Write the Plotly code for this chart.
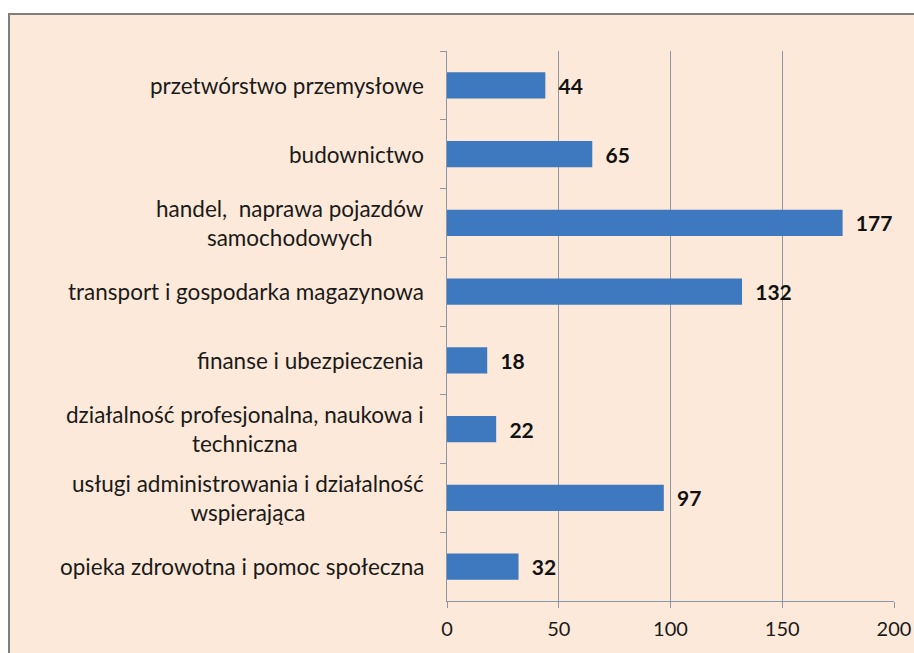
import plotly.graph_objects as go

categories = [
    "przetwórstwo przemysłowe",
    "budownictwo",
    "handel,  naprawa pojazdów<br>samochodowych",
    "transport i gospodarka magazynowa",
    "finanse i ubezpieczenia",
    "działalność profesjonalna, naukowa i<br>techniczna",
    "usługi administrowania i działalność<br>wspierająca",
    "opieka zdrowotna i pomoc społeczna",
]
values = [44, 65, 177, 132, 18, 22, 97, 32]
x_ticks = [0, 50, 100, 150, 200]

FONT = "Lato"
W, H = 914, 653
L, R, T, B = 447, 20, 51, 52
pw, ph = W - L - R, H - T - B

def px_x(p):
    return (p - L) / pw

def px_y(p):
    return (H - B - p) / ph

fig = go.Figure()
fig.add_trace(go.Bar(
    y=categories,
    x=values,
    orientation="h",
    marker=dict(color="#3E78BE", line=dict(width=0)),
    texttemplate="\u00a0\u00a0%{x}",
    textposition="outside",
    textfont=dict(family=FONT, size=21, color="#111111", weight="bold"),
    constraintext="none",
    cliponaxis=False,
    hoverinfo="skip",
))

for c in categories:
    fig.add_annotation(
        x=0, xref="paper", y=c, yref="y",
        text=c, showarrow=False, xanchor="right", yanchor="middle",
        align="center", xshift=-21,
        font=dict(family=FONT, size=22.5, color="#1a1a1a"),
    )

fig.add_shape(
    type="rect", xref="paper", yref="paper", layer="below",
    x0=px_x(9), x1=px_x(W + 10), y0=px_y(H + 10), y1=px_y(14),
    fillcolor="#FCE9D9", line=dict(color="#7F7F7F", width=2),
)

fig.update_layout(
    width=W, height=H,
    autosize=False,
    margin=dict(l=L, r=R, t=T, b=B, autoexpand=False),
    paper_bgcolor="white",
    plot_bgcolor="rgba(0,0,0,0)",
    bargap=0.62,
    showlegend=False,
    xaxis=dict(
        range=[0, 200], tickvals=x_ticks,
        automargin=False,
        showgrid=True, gridcolor="#8A97A6", gridwidth=1.3,
        zeroline=False,
        showline=True, linecolor="#8A97A6", linewidth=1.3,
        ticks="outside", ticklen=6, tickcolor="#8A97A6", tickwidth=1.3,
        ticklabelstandoff=4,
        tickfont=dict(family=FONT, size=20, color="#1a1a1a"),
        fixedrange=True,
    ),
    yaxis=dict(
        autorange="reversed",
        automargin=False,
        showticklabels=False,
        tickson="boundaries",
        ticks="outside", ticklen=6, tickcolor="#8A97A6", tickwidth=1.3,
        showline=True, linecolor="#8A97A6", linewidth=1.3,
        showgrid=False, zeroline=False,
        fixedrange=True,
    ),
)

fig.write_html(
    "out.html",
    config={"displayModeBar": False, "responsive": False},
    post_script="document.body.style.margin='0';document.body.style.overflow='hidden';",
)
